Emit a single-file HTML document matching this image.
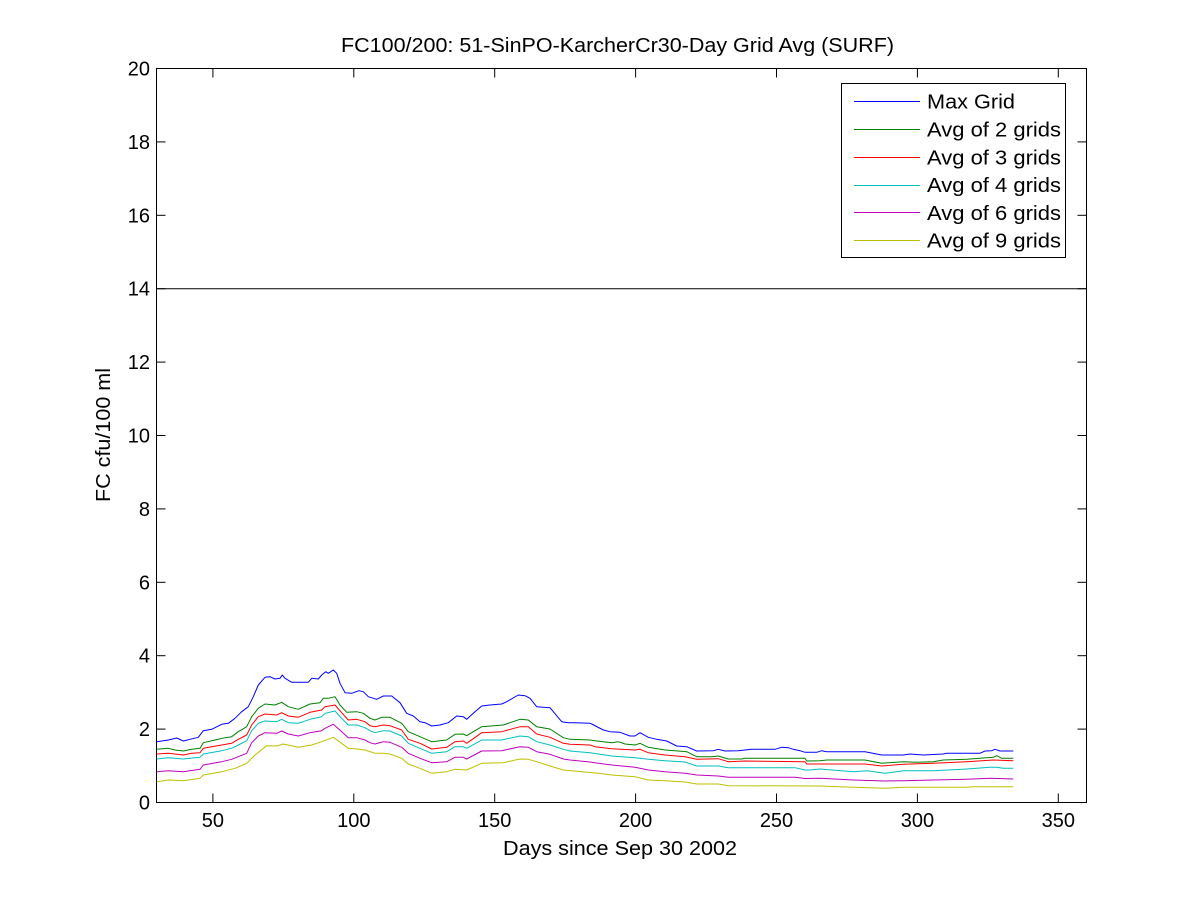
<!DOCTYPE html>
<html>
<head>
<meta charset="utf-8">
<style>
  html, body { margin:0; padding:0; background:#fff; }
  svg { display:block; }
  text { font-family: "Liberation Sans", Arial, sans-serif; fill:#000; }
</style>
</head>
<body>
<svg width="1200" height="901" viewBox="0 0 1200 901" xmlns="http://www.w3.org/2000/svg">
  <rect x="0" y="0" width="1200" height="901" fill="#fff"/>

  <!-- Axes box -->
  <rect x="156.5" y="68.5" width="930" height="734" fill="#fff" stroke="#000" stroke-width="1"/>

  <!-- X ticks: v -> 156.5 + (v-30)*2.81818 -->
  <g stroke="#000" stroke-width="1">
    <line x1="212.9" y1="802.5" x2="212.9" y2="793.5"/>
    <line x1="353.8" y1="802.5" x2="353.8" y2="793.5"/>
    <line x1="494.7" y1="802.5" x2="494.7" y2="793.5"/>
    <line x1="635.6" y1="802.5" x2="635.6" y2="793.5"/>
    <line x1="776.5" y1="802.5" x2="776.5" y2="793.5"/>
    <line x1="917.4" y1="802.5" x2="917.4" y2="793.5"/>
    <line x1="1058.3" y1="802.5" x2="1058.3" y2="793.5"/>
    <line x1="212.9" y1="68.5" x2="212.9" y2="77.5"/>
    <line x1="353.8" y1="68.5" x2="353.8" y2="77.5"/>
    <line x1="494.7" y1="68.5" x2="494.7" y2="77.5"/>
    <line x1="635.6" y1="68.5" x2="635.6" y2="77.5"/>
    <line x1="776.5" y1="68.5" x2="776.5" y2="77.5"/>
    <line x1="917.4" y1="68.5" x2="917.4" y2="77.5"/>
    <line x1="1058.3" y1="68.5" x2="1058.3" y2="77.5"/>
  </g>
  <!-- Y ticks: v -> 802.5 - v*36.7 -->
  <g stroke="#000" stroke-width="1">
    <line x1="156.5" y1="729.1" x2="165.5" y2="729.1"/>
    <line x1="156.5" y1="655.7" x2="165.5" y2="655.7"/>
    <line x1="156.5" y1="582.3" x2="165.5" y2="582.3"/>
    <line x1="156.5" y1="508.9" x2="165.5" y2="508.9"/>
    <line x1="156.5" y1="435.5" x2="165.5" y2="435.5"/>
    <line x1="156.5" y1="362.1" x2="165.5" y2="362.1"/>
    <line x1="156.5" y1="288.7" x2="165.5" y2="288.7"/>
    <line x1="156.5" y1="215.3" x2="165.5" y2="215.3"/>
    <line x1="156.5" y1="141.9" x2="165.5" y2="141.9"/>
    <line x1="1086.5" y1="729.1" x2="1077.5" y2="729.1"/>
    <line x1="1086.5" y1="655.7" x2="1077.5" y2="655.7"/>
    <line x1="1086.5" y1="582.3" x2="1077.5" y2="582.3"/>
    <line x1="1086.5" y1="508.9" x2="1077.5" y2="508.9"/>
    <line x1="1086.5" y1="435.5" x2="1077.5" y2="435.5"/>
    <line x1="1086.5" y1="362.1" x2="1077.5" y2="362.1"/>
    <line x1="1086.5" y1="288.7" x2="1077.5" y2="288.7"/>
    <line x1="1086.5" y1="215.3" x2="1077.5" y2="215.3"/>
    <line x1="1086.5" y1="141.9" x2="1077.5" y2="141.9"/>
  </g>

  <!-- Tick labels -->
  <g font-size="20" text-anchor="middle">
    <text x="212.9" y="827">50</text>
    <text x="353.8" y="827">100</text>
    <text x="494.7" y="827">150</text>
    <text x="635.6" y="827">200</text>
    <text x="776.5" y="827">250</text>
    <text x="917.4" y="827">300</text>
    <text x="1058.3" y="827">350</text>
  </g>
  <g font-size="20" text-anchor="end">
    <text x="150" y="809.5">0</text>
    <text x="150" y="736.1">2</text>
    <text x="150" y="662.7">4</text>
    <text x="150" y="589.3">6</text>
    <text x="150" y="515.9">8</text>
    <text x="150" y="442.5">10</text>
    <text x="150" y="369.1">12</text>
    <text x="150" y="295.7">14</text>
    <text x="150" y="222.3">16</text>
    <text x="150" y="148.9">18</text>
    <text x="150" y="75.5">20</text>
  </g>

  <!-- Title and axis labels -->
  <text x="341" y="52" font-size="20" textLength="553" lengthAdjust="spacingAndGlyphs">FC100/200: 51-SinPO-KarcherCr30-Day Grid Avg (SURF)</text>
  <text x="503" y="855" font-size="20" textLength="234" lengthAdjust="spacingAndGlyphs">Days since Sep 30 2002</text>
  <text transform="translate(110,502) rotate(-90)" x="0" y="0" font-size="20" textLength="134" lengthAdjust="spacingAndGlyphs">FC cfu/100 ml</text>

  <!-- Threshold line at 14 -->
  <line x1="156.5" y1="288.7" x2="1086.5" y2="288.7" stroke="#000" stroke-width="1"/>

  <!-- Series -->
  <g fill="none" stroke-width="1" stroke-linejoin="round">
    <polyline stroke="#0000ff" points="156.7,741.7 168.3,740 176.7,738 183.3,741 190,739.3 198.3,737.3 203.3,730.7 211.7,729.3 221.7,724.3 228.3,723.3 235,718.3 241.7,711.7 248.3,706.7 253.3,696.7 258.3,685 265,677.3 270,676.7 275,679 280,678.3 282.3,675 285,678.3 291.7,682.3 308.3,682.3 311.7,678.3 318.3,679 321.7,675 325.7,671.7 328.3,673.3 333.3,670 336.7,673.3 340,683.3 345,692.7 351.7,693.3 359,690.7 363.3,691.7 368.3,696.7 376.7,699.3 383.3,696 391.7,696 400,702.7 406.7,713.3 413.3,716 420,721.7 425,722.7 431.7,726 440,725 448.3,722.7 456.7,716 463.3,716.7 466.7,719.3 473.3,713.3 481.7,706 490,705 501.7,704 506.7,701.7 518.3,695 525,695.7 530,698.3 536.7,706.7 543.3,707.3 550,707.7 561.7,721.7 568.3,722.7 575,722.7 590,723.3 591.7,724 603.3,730 610,731.7 620,732.3 630,736 635,736 640,732.7 648.3,737.3 656.7,739.3 666.7,741 676.7,746 686.7,746.7 696.7,751 713.3,750.7 718.3,749.3 725,751 738.3,750.7 751.7,749.3 775,749.3 781.7,747.3 788.3,747.7 793.3,749.3 800,750.7 805,752.3 816.7,752.3 821.7,750.7 826.7,751.7 865,751.7 881.7,755 903.3,755 910,754 923.3,755 943.3,754 946.7,753.3 980,753.3 985,751 991.7,750.7 995,749.3 1000,751 1013.3,751"/>
    <polyline stroke="#008000" points="156.7,749.3 168.3,748.3 175,750 183.3,751 191.7,749.3 200,748.3 203.3,742.7 215,740 225,737.7 231.7,736.7 238.3,731.7 246.7,726.7 251.7,716.7 258.3,708.3 265,704 275,705 281.7,702.3 288.3,706.7 298.3,709.3 310,704 320,702.7 323.3,698.3 328.3,698.3 335,696.7 340,705 346.7,712.3 356.7,711.7 363.3,713.3 370,718.3 375,720 381.7,717.3 390,717.3 401.7,723.3 408.3,731.7 420,736.7 431.7,741.7 446.7,740 455,734.3 463.3,734 466.7,735.7 481.7,726.7 503.3,725 510,722.7 520,719.3 528.3,720 536.7,726.7 550,729 563.3,737.7 570,739.3 590,740 595,740.7 611.7,742.7 618.3,741.7 625,744 635,745 640,743.3 648.3,747.3 665,750 678.3,751 686.7,751.7 696.7,756.7 711.7,756.7 718.3,756 728.3,759 741.7,759 745,758.3 805,758.3 806.7,761 820,760.7 826.7,760 865,760 881.7,763.3 903.3,761.7 916.7,762.3 933.3,761.7 943.3,760 966.7,759.3 980,758.3 993.3,757.3 996.7,755.7 1001.7,758.3 1013.3,758.3"/>
    <polyline stroke="#ff0000" points="156.7,754 168.3,753.3 183.3,755 191.7,753.3 200,752.7 203.3,748.3 221.7,745 231.7,743.3 238.3,739.3 246.7,735 251.7,725 258.3,716.7 265,714 276.7,715 281.7,712.7 288.3,716 298.3,717.3 310,712.3 321.7,710 325,706.7 335,705 341.7,712.7 348.3,720 356.7,719.3 365,721.7 370,725.7 375,726.7 383.3,725 390,725.7 401.7,730 408.3,739.3 420,743.3 431.7,749 446.7,747.3 455,741.7 463.3,741 466.7,743.3 481.7,732.7 501.7,731.7 520,726.7 528.3,726.7 536.7,734 550,737.3 563.3,743.3 570,744.3 590,745 595,746.7 611.7,748.7 635,750 640,749.3 648.3,752.7 665,755 685,756.7 696.7,759.3 718.3,758.7 728.3,761.7 745,761 805,761.7 806.7,764 865,764 881.7,766 903.3,764.3 933.3,763.3 966.7,761.7 993.3,760 1013.3,760.7"/>
    <polyline stroke="#00bfbf" points="156.7,759 168.3,757.7 183.3,759 200,757.3 203.3,754 221.7,750.7 231.7,748.3 238.3,745 246.7,740.7 251.7,730.7 258.3,723.3 265,721 276.7,721.7 281.7,719.3 288.3,722.7 298.3,723.3 310,719.3 321.7,716.7 325,713.3 335,711 341.7,718.3 348.3,725 356.7,725 365,727.7 370,730.7 375,732.7 383.3,730.7 390,731 401.7,736 408.3,743.3 420,748.3 431.7,753.3 446.7,751.7 455,746.7 463.3,746.7 466.7,748.3 481.7,740 501.7,740 520,736 528.3,736.7 536.7,741.7 550,745 563.3,749.3 570,751 590,752.7 598.3,754 611.7,756 635,757.7 648.3,759.3 665,760.7 685,762 696.7,766 718.3,766 728.3,767.7 795,767.7 805,770 810,770 820,769 853.3,771.7 866.7,770.7 885,773.3 903.3,770.7 933.3,770.7 966.7,769 990,767.3 996.7,767.3 1003.3,768.3 1013.3,768.3"/>
    <polyline stroke="#bf00bf" points="156.7,771.7 168.3,770.7 183.3,771.7 200,769.3 203.3,765 221.7,761.7 231.7,759.3 238.3,756.7 246.7,753.3 251.7,742.7 258.3,736 265,732.7 276.7,733.3 281.7,731 288.3,734 298.3,736 310,732.7 321.7,730.7 325,728.3 333.3,724.3 341.7,731.7 348.3,737.7 356.7,737.7 365,740 370,742.7 375,744 383.3,741.7 390,742.3 401.7,747.3 408.3,753.3 420,758.3 431.7,762.7 446.7,761.7 455,757.3 463.3,757.3 466.7,759 481.7,751 501.7,750.7 520,746.7 528.3,747.3 536.7,751.7 550,754.3 563.3,759 570,760 590,762 598.3,763.3 611.7,765 635,767.3 648.3,770 665,771.7 685,773.3 696.7,775 718.3,776 728.3,777.3 795,777.3 805,778.5 820,778.3 853.3,780 885,781 903.3,780.7 933.3,780 966.7,779.3 990,778.3 1013.3,779"/>
    <polyline stroke="#bfbf00" points="156.7,781.7 168.3,780 183.3,780.7 200,778.3 203.3,775 221.7,771.7 235,768.3 246.7,763.3 255,755 266.7,745.7 276.7,746 283.3,744 298.3,747.3 311.7,745 321.7,741.7 333.3,737.3 341.7,743.3 348.3,748.3 356.7,749 365,750 375,753.3 383.3,753.3 390,754 401.7,758.3 408.3,764 420,768.3 431.7,773.3 446.7,771.7 455,769.3 466.7,770 481.7,763.3 503.3,762.7 520,759 528.3,759.3 536.7,761.7 550,766 563.3,770 585,772 598.3,773.3 611.7,775 635,776.7 648.3,780 665,780.7 685,782 696.7,784 718.3,784 728.3,785.7 820,786 853.3,787.3 885,788.3 903.3,787.3 966.7,787.3 973.3,786.7 1013.3,786.7"/>
  </g>

  <!-- Legend -->
  <rect x="841.5" y="83.5" width="224" height="174" fill="#fff" stroke="#000" stroke-width="1"/>
  <g stroke-width="1">
    <line x1="854" y1="101.5" x2="920" y2="101.5" stroke="#0000ff"/>
    <line x1="854" y1="129.5" x2="920" y2="129.5" stroke="#008000"/>
    <line x1="854" y1="157.5" x2="920" y2="157.5" stroke="#ff0000"/>
    <line x1="854" y1="185.5" x2="920" y2="185.5" stroke="#00bfbf"/>
    <line x1="854" y1="212.5" x2="920" y2="212.5" stroke="#bf00bf"/>
    <line x1="854" y1="240.5" x2="920" y2="240.5" stroke="#bfbf00"/>
  </g>
  <g font-size="20">
    <text x="927" y="108.7" textLength="88" lengthAdjust="spacingAndGlyphs">Max Grid</text>
    <text x="927" y="136.5" textLength="134" lengthAdjust="spacingAndGlyphs">Avg of 2 grids</text>
    <text x="927" y="164.3" textLength="134" lengthAdjust="spacingAndGlyphs">Avg of 3 grids</text>
    <text x="927" y="192" textLength="134" lengthAdjust="spacingAndGlyphs">Avg of 4 grids</text>
    <text x="927" y="219.8" textLength="134" lengthAdjust="spacingAndGlyphs">Avg of 6 grids</text>
    <text x="927" y="247.6" textLength="134" lengthAdjust="spacingAndGlyphs">Avg of 9 grids</text>
  </g>
</svg>
</body>
</html>
